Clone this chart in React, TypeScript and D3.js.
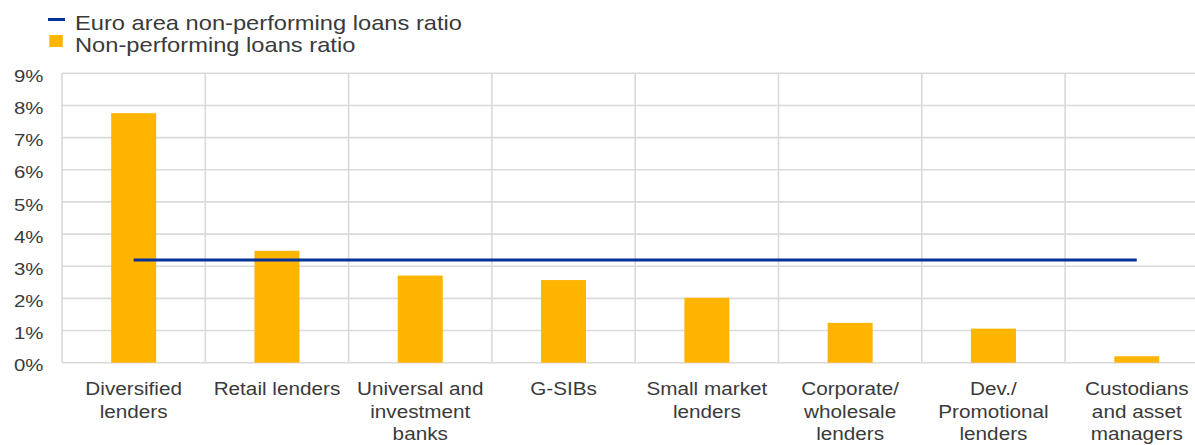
import React from "react";
import * as d3 from "d3";

const categories: string[][] = [
  ["Diversified", "lenders"],
  ["Retail lenders"],
  ["Universal and", "investment", "banks"],
  ["G-SIBs"],
  ["Small market", "lenders"],
  ["Corporate/", "wholesale", "lenders"],
  ["Dev./", "Promotional", "lenders"],
  ["Custodians", "and asset", "managers"],
];
const nplRatio: number[] = [7.76, 3.48, 2.71, 2.57, 2.02, 1.24, 1.06, 0.2];
const euroAreaRatio: number = 3.19;
const yTicks: number[] = [0, 1, 2, 3, 4, 5, 6, 7, 8, 9];
const legendLabels: string[] = ["Euro area non-performing loans ratio", "Non-performing loans ratio"];

const W = 1195;
const H = 445;
const left = 62;
const right = 62 + 8 * 143.3;
const top = 73.3;
const bottom = 362.7;
const BAR = "#FFB400";
const LINE = "#003299";
const GRID = "#d9d9d9";
const TXT = "#3a3a3a";
const FONT = "'Liberation Sans', Arial, sans-serif";

export default function App() {
  const keys = categories.map((c) => c.join(" "));
  const x = d3.scaleBand<string>().domain(keys).range([left, right]).padding(0);
  const y = d3.scaleLinear().domain([0, 9]).range([bottom, top]);
  const bw = x.bandwidth();
  const barW = bw * 0.314;
  const lineGen = d3
    .line<string>()
    .x((k) => (x(k) as number) + bw / 2)
    .y(() => y(euroAreaRatio));

  return (
    <svg
      width={W}
      height={H}
      style={{ position: "absolute", left: 0, top: 0, background: "#fff" }}
      fontFamily={FONT}
    >
      {/* horizontal grid */}
      {yTicks.map((t) => (
        <line key={"h" + t} x1={left} x2={right} y1={y(t)} y2={y(t)} stroke={GRID} strokeWidth={1.6} />
      ))}
      {/* vertical grid */}
      {keys.map((k) => (
        <line key={"v" + k} x1={x(k)} x2={x(k)} y1={top} y2={bottom} stroke={GRID} strokeWidth={1.6} />
      ))}
      <line x1={right} x2={right} y1={top} y2={bottom} stroke={GRID} strokeWidth={1.6} />
      {/* bars */}
      {keys.map((k, i) => (
        <rect
          key={"b" + k}
          x={(x(k) as number) + bw / 2 - barW / 2}
          y={y(nplRatio[i])}
          width={barW}
          height={y(0) - y(nplRatio[i])}
          fill={BAR}
        />
      ))}
      {/* euro area line */}
      <path d={lineGen(keys) as string} fill="none" stroke={LINE} strokeWidth={3} />
      {/* y tick labels */}
      {yTicks.map((t) => (
        <g key={"yt" + t} transform={`translate(43.5,${y(t) + 8.6}) scale(1.2,1)`}>
          <text textAnchor="end" fontSize={17} fill={TXT}>
            {t + "%"}
          </text>
        </g>
      ))}
      {/* x labels */}
      {categories.map((lines, i) => (
        <g key={"xl" + i}>
          {lines.map((ln, j) => (
            <g
              key={j}
              transform={`translate(${(x(keys[i]) as number) + bw / 2},${395 + j * 22.5}) scale(1.12,1)`}
            >
              <text textAnchor="middle" fontSize={18.5} fill={TXT}>
                {ln}
              </text>
            </g>
          ))}
        </g>
      ))}
      {/* legend */}
      <line x1={48} x2={65} y1={19.5} y2={19.5} stroke={LINE} strokeWidth={3} />
      <rect x={49.3} y={35} width={13.5} height={12} fill={BAR} />
      <g transform="translate(75,30) scale(1.128,1)">
        <text fontSize={21} fill={TXT}>{legendLabels[0]}</text>
      </g>
      <g transform="translate(75,51.7) scale(1.128,1)">
        <text fontSize={21} fill={TXT}>{legendLabels[1]}</text>
      </g>
    </svg>
  );
}
